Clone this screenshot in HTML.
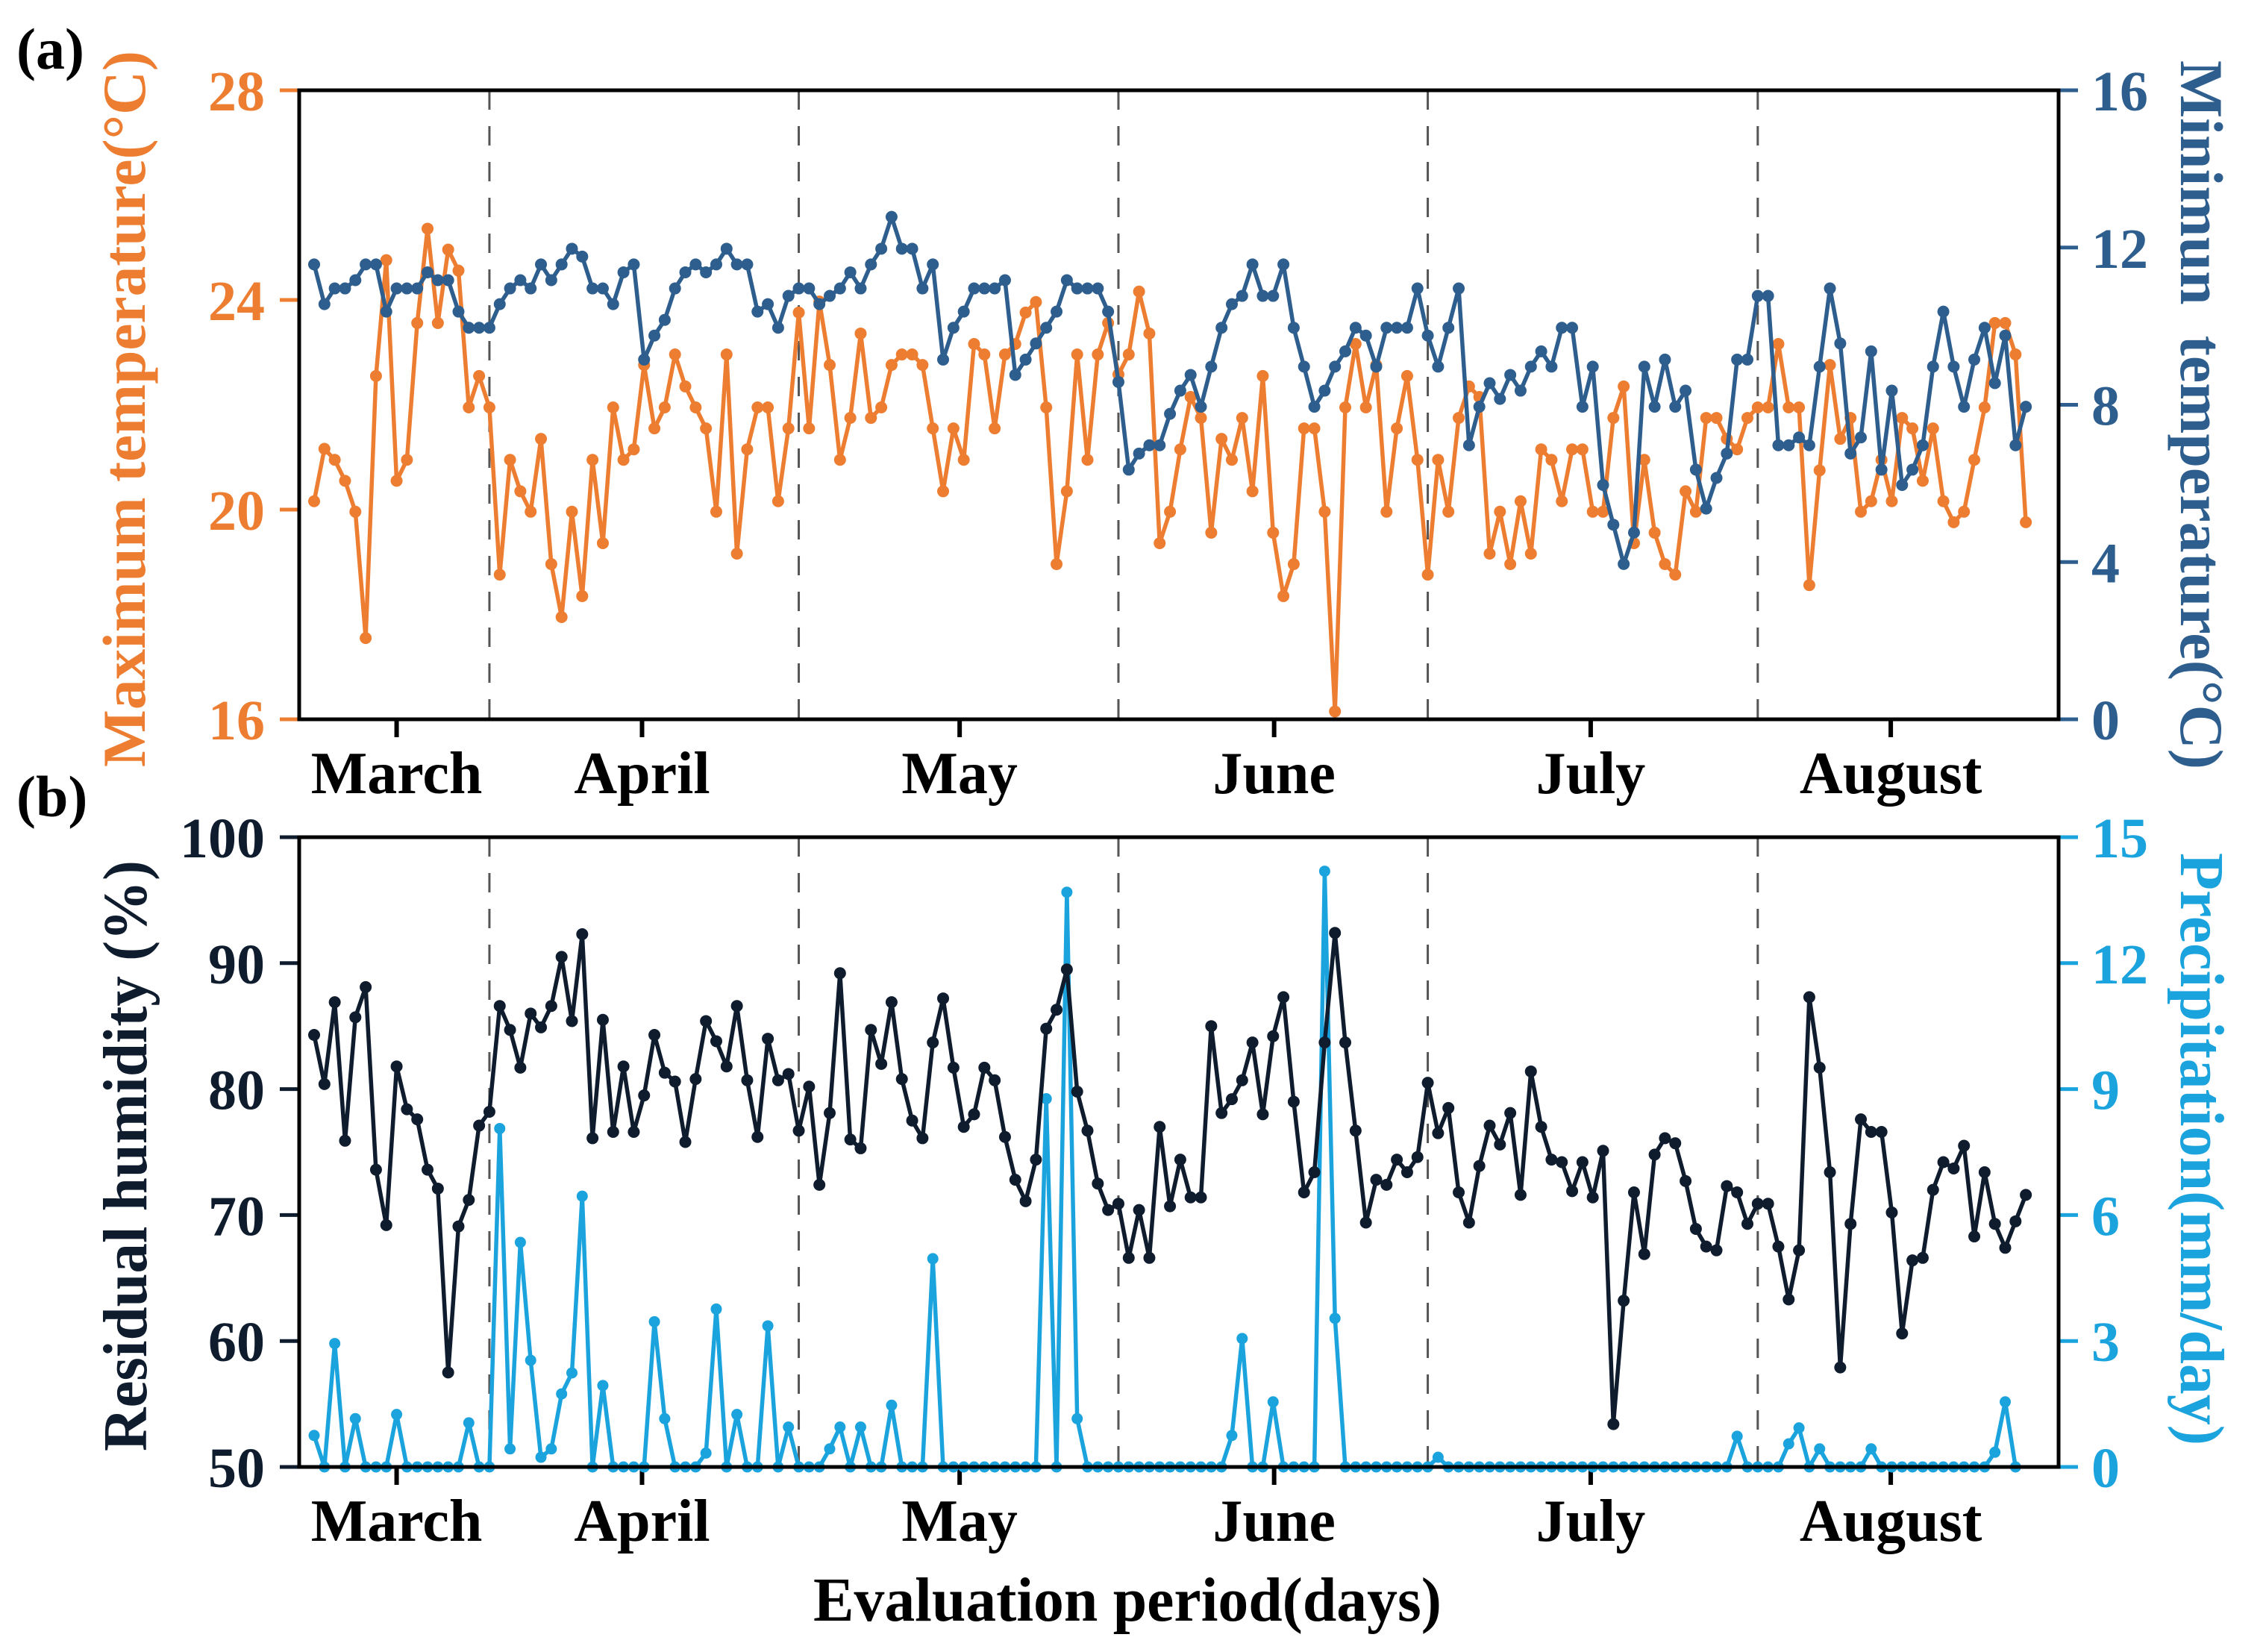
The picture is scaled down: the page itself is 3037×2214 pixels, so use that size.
<!DOCTYPE html>
<html><head><meta charset="utf-8"><title>Temperature, humidity and precipitation</title>
<style>html,body{margin:0;padding:0;background:#fff}svg{display:block}text{font-family:"Liberation Serif",serif;font-weight:bold}</style>
</head><body>
<svg id="chart" xmlns="http://www.w3.org/2000/svg" width="3037" height="2214" viewBox="0 0 3037 2214">
<rect x="0" y="0" width="3037" height="2214" fill="#fff"/>
<text x="22" y="92" font-size="78" fill="#000">(a)</text>
<text x="22" y="1094" font-size="78" fill="#000">(b)</text>
<text transform="translate(194,548) rotate(-90)" text-anchor="middle" font-size="82" fill="#ED7D31" textLength="960" lengthAdjust="spacingAndGlyphs">Maximum temperature(°C)</text>
<text transform="translate(2923,556) rotate(90)" text-anchor="middle" font-size="82" fill="#2E5E8E" textLength="950" lengthAdjust="spacingAndGlyphs" xml:space="preserve">Minimun  temperature(°C)</text>
<text transform="translate(196,1549) rotate(-90)" text-anchor="middle" font-size="84" fill="#0f1c2e" textLength="792" lengthAdjust="spacingAndGlyphs">Residual humidity (%)</text>
<text transform="translate(2923,1540) rotate(90)" text-anchor="middle" font-size="84" fill="#1AA3DC" textLength="794" lengthAdjust="spacingAndGlyphs">Precipitation(mm/day)</text>
<text x="1511" y="2172" text-anchor="middle" font-size="84" fill="#000" textLength="842" lengthAdjust="spacingAndGlyphs">Evaluation period(days)</text>
<g id="layer"></g>
</svg>
<script>
const maxTemp = [20.16,21.16,20.95,20.55,19.96,17.55,22.55,24.76,20.55,20.95,23.56,25.36,23.56,24.96,24.56,21.95,22.55,21.95,
18.76,20.95,20.35,19.96,21.35,18.96,17.95,19.96,18.35,20.95,19.36,21.95,20.95,21.15,22.76,21.55,21.95,22.96,22.35,21.95,21.55,19.96,22.96,19.16,21.15,21.95,21.95,20.16,21.55,
23.76,
21.55,23.97,22.76,20.95,21.75,23.36,21.75,21.95,22.76,22.96,22.96,22.76,21.55,20.35,21.55,20.95,23.16,22.96,21.55,22.96,23.16,23.76,23.96,21.95,18.96,20.35,22.96,20.95,22.96,23.56,22.58,22.96,24.16,23.36,19.36,19.96,21.15,22.15,21.75,19.56,21.35,20.95,21.75,20.35,22.55,19.56,18.35,18.96,21.55,
21.55,19.96,16.15,21.95,23.16,21.95,22.76,19.96,21.55,22.55,20.95,18.76,20.95,19.96,21.75,22.35,22.15,19.16,19.96,18.96,20.16,19.16,21.15,20.95,20.16,21.15,21.15,19.96,19.96,21.75,22.35,19.36,20.95,19.56,18.96,18.76,20.35,19.96,21.75,21.75,21.35,21.15,21.75,21.95,21.95,23.16,21.95,21.95,18.56,20.75,
22.76,21.35,21.75,19.96,20.16,20.95,20.16,21.75,21.55,20.55,21.55,20.16,19.76,19.96,20.95,21.95,23.56,23.56,22.96,19.76];
const minTemp = [11.57,10.56,10.96,10.96,11.17,11.57,11.57,10.37,10.96,10.96,10.96,11.37,11.17,11.17,10.37,9.96,9.96,9.96,
10.56,10.96,11.17,10.96,11.57,11.17,11.57,11.97,11.77,10.96,10.96,10.56,11.37,11.57,9.15,9.76,10.16,10.96,11.37,11.57,11.37,11.57,11.97,11.57,11.57,10.37,10.56,9.96,10.77,
10.96,
10.96,10.56,10.77,10.96,11.37,10.96,11.57,11.97,12.78,11.97,11.97,10.96,11.57,9.15,9.96,10.37,10.96,10.96,10.96,11.17,8.76,9.15,9.56,9.96,10.37,11.17,10.96,10.96,10.96,10.37,8.58,6.35,6.76,6.97,6.97,7.77,8.36,8.76,7.95,8.97,9.96,10.56,10.77,11.57,10.77,10.77,11.57,9.96,8.97,
7.95,8.36,8.97,9.36,9.96,9.76,8.97,9.96,9.96,9.96,10.96,9.76,8.97,9.96,10.96,6.97,7.95,8.55,8.15,8.76,8.36,8.97,9.36,8.97,9.96,9.96,7.95,8.97,5.96,4.95,3.95,4.75,8.97,7.95,9.15,7.95,8.36,6.35,5.36,6.14,6.76,9.15,9.15,10.77,10.77,6.97,6.97,7.17,6.97,8.97,
10.96,9.56,6.76,7.17,9.36,6.35,8.36,5.96,6.35,6.97,8.97,10.37,8.97,7.95,9.15,9.96,8.55,9.76,6.97,7.95];
const humidity = [84.3,80.4,86.9,75.9,85.7,88.1,73.6,69.2,81.8,78.4,77.6,73.6,72.1,57.5,69.1,71.2,77.1,78.2,
86.6,84.7,81.7,86.0,84.9,86.6,90.5,85.4,92.3,76.1,85.5,76.6,81.8,76.6,79.5,84.3,81.3,80.6,75.8,80.8,85.4,83.8,81.8,86.6,80.7,76.2,84.0,80.7,81.2,
76.7,
80.2,72.4,78.1,89.2,76.0,75.3,84.7,82.0,86.9,80.8,77.5,76.1,83.7,87.2,81.7,77.0,78.0,81.7,80.7,76.2,72.8,71.1,74.4,84.8,86.3,89.5,79.8,76.7,72.5,70.4,70.9,66.6,70.4,66.6,77.0,70.7,74.4,71.4,71.4,85.0,78.1,79.2,80.7,83.7,78.0,84.2,87.3,79.0,71.8,
73.4,83.7,92.4,83.7,76.7,69.4,72.8,72.4,74.4,73.4,74.6,80.5,76.5,78.5,71.8,69.4,73.9,77.1,75.6,78.1,71.6,81.4,77.0,74.4,74.2,71.9,74.2,71.4,75.1,53.4,63.2,71.8,66.9,74.8,76.1,75.7,72.7,68.9,67.5,67.2,72.3,71.8,69.3,70.9,70.9,67.5,63.3,67.2,87.3,81.7,
73.4,57.9,69.3,77.6,76.6,76.6,70.2,60.6,66.4,66.6,72.0,74.2,73.7,75.5,68.3,73.4,69.3,67.4,69.5,71.6];
const precipitation = [0.75,0,2.94,0,1.15,0,0,0,1.25,0,0,0,0,0,0,1.05,0,0,
8.06,0.43,5.35,2.54,0.23,0.43,1.74,2.24,6.45,0,1.94,0,0,0,0,3.46,1.15,0,0,0,0.33,3.76,0,1.25,0,0,3.36,0,0.95,
0,
0,0,0.43,0.95,0,0.95,0,0,1.47,0,0,0,4.96,0,0,0,0,0,0,0,0,0,0,8.77,0,13.69,1.15,0,0,0,0,0,0,0,0,0,0,0,0,0,0,0.75,3.06,0,0,1.55,0,0,0,
0,14.19,3.54,0,0,0,0,0,0,0,0,0,0.23,0,0,0,0,0,0,0,0,0,0,0,0,0,0,0,0,0,0,0,0,0,0,0,0,0,0,0,0,0.73,0,0,0,0,0.55,0.93,0,
0.43,0,0,0,0,0.43,0,0,0,0,0,0,0,0,0,0,0,0.35,1.55,0];
const monthNames = ["March","April","May","June","July","August"];
const monthTickDay = [8,31.8,62.6,93.1,123.8,152.9];
const monthStartDay = [17,47,78,108,140];
const maxTempTicks = [16,20,24,28];
const minTempTicks = [0,4,8,12,16];
const humidityTicks = [50,60,70,80,90,100];
const precipTicks = [0,3,6,9,12,15];

const NS = "http://www.w3.org/2000/svg";
const layer = document.getElementById("layer");
const L = 401, R = 2759;
const A = {top:121, bottom:964}, B = {top:1122, bottom:1966};
function xDay(k){ return 421 + k * (2715 - 421) / 165.99; }
function yMax(v){ return A.bottom - (v - 16) / 12 * (A.bottom - A.top); }
function yMin(v){ return A.bottom - v / 16 * (A.bottom - A.top); }
function yHum(v){ return B.bottom - (v - 50) / 50 * (B.bottom - B.top); }
function yPre(v){ return B.bottom - v / 15 * (B.bottom - B.top); }
function mk(tag, attrs, parent){
  const e = document.createElementNS(NS, tag);
  for (const k in attrs) e.setAttribute(k, attrs[k]);
  (parent || layer).appendChild(e);
  return e;
}
function drawPanel(P, prefix){
  monthStartDay.forEach(function(d){
    const ln = mk("line", {x1:xDay(d), x2:xDay(d), y1:P.top, y2:P.bottom, stroke:"#555", "stroke-width":3, "stroke-dasharray":"26 22"});
    
    
  });
  monthNames.forEach(function(m, i){
    const x = xDay(monthTickDay[i]);
    const t = mk("line", {x1:x, x2:x, y1:P.bottom, y2:P.bottom + 24, stroke:"#000", "stroke-width":6});
    
    
    const lb = mk("text", {x:x, y:P.bottom + 99, "text-anchor":"middle", "font-size":80, fill:"#000"});
    lb.textContent = m;
    
    
  });
}
function yTicks(vals, fy, side, color, prefix){
  vals.forEach(function(v){
    const y = fy(v);
    const x1 = side === "left" ? L - 26 : R;
    const t = mk("line", {x1:x1, x2:x1 + 26, y1:y, y2:y, stroke:color, "stroke-width":5});
    
    
    const lb = mk("text", {x: side === "left" ? 355 : 2803, y: y + 27, "text-anchor": side === "left" ? "end" : "start", "font-size":76, fill:color});
    lb.textContent = String(v);
    
    
  });
}
function series(vals, fy, color, name, lw, r){
  const g = mk("g", {});
  
  
  const pts = vals.map(function(v, k){ return xDay(k).toFixed(1) + "," + fy(v).toFixed(1); }).join(" ");
  const pl = mk("polyline", {points:pts, fill:"none", stroke:color, "stroke-width":lw, "stroke-linejoin":"round"}, g);
  
  
  vals.forEach(function(v, k){
    const c = mk("circle", {cx:xDay(k), cy:fy(v), r:r, fill:color}, g);
    
    
  });
}
drawPanel(A, "panel-a");
drawPanel(B, "panel-b");
series(maxTemp, yMax, "#ED7D31", "max-temperature", 5.5, 8);
series(minTemp, yMin, "#2E5E8E", "min-temperature", 5.5, 8);
series(precipitation, yPre, "#1AA3DC", "precipitation", 5.5, 7.5);
series(humidity, yHum, "#0f1c2e", "humidity", 5.5, 8);
yTicks(maxTempTicks, yMax, "left", "#ED7D31", "max-temp-axis");
yTicks(minTempTicks, yMin, "right", "#2E5E8E", "min-temp-axis");
yTicks(humidityTicks, yHum, "left", "#0f1c2e", "humidity-axis");
yTicks(precipTicks, yPre, "right", "#1AA3DC", "precip-axis");
[A, B].forEach(function(P, i){
  const fr = mk("rect", {x:L, y:P.top, width:R - L, height:P.bottom - P.top, fill:"none", stroke:"#000", "stroke-width":5});
  
  
});
</script>
</body></html>
